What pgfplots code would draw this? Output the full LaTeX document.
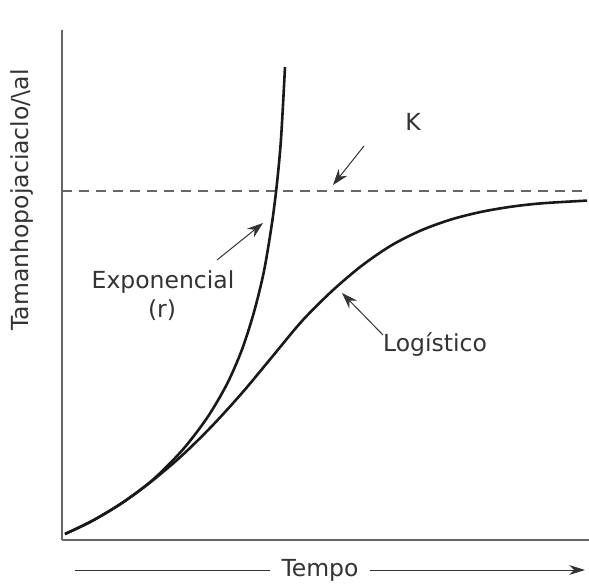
\documentclass[border=0pt]{standalone}
\usepackage{pgfplots}
\pgfplotsset{compat=1.18}
\usepackage{fontspec}
\setmainfont{DejaVu Sans}
\usetikzlibrary{arrows.meta}
\definecolor{txt}{HTML}{333333}
\definecolor{axc}{HTML}{666666}
\begin{document}
\begin{tikzpicture}[every node/.style={font=\fontsize{11.75pt}{14pt}\selectfont, text=txt}]
\useasboundingbox (0,0) rectangle (294.5pt,292pt);
\begin{axis}[
  at={(31pt,22pt)}, anchor=south west,
  scale only axis, width=263.5pt, height=255pt,
  xmin=0, xmax=527, ymin=0, ymax=510,
  axis x line=bottom, axis y line=left,
  axis line style={-, axc, line width=0.7pt},
  xtick=\empty, ytick=\empty,
  clip=false,
]
% K line
\addplot[axc, line width=0.7pt, dash pattern=on 5pt off 3.5pt] coordinates {(0,349) (523,349)};
% exponential
\addplot[black!90, line width=1.3pt, smooth] coordinates {
(3,6) (30,19) (60,37) (90,59.5) (120,89.5) (145,122) (165,156) (180,190.5) (192,228) (202,269) (210,317) (215,357) (219,401) (223,473)};
% logistic
\addplot[black!90, line width=1.3pt, smooth] coordinates {
(3,6) (30,19) (60,37) (90,59) (120,84.5) (150,114) (180,147) (210,183) (240,219) (270,249) (300,274.5) (330,295) (360,310) (390,320.8) (420,328.3) (450,333.4) (480,336.7) (525,339.4)};
% arrows
\draw[txt, line width=0.5pt, -{Stealth[length=8pt,width=5.5pt]}] (axis cs:302,394) -- (axis cs:271,355);
\draw[txt, line width=0.5pt, -{Stealth[length=8pt,width=5.5pt]}] (axis cs:155,280) -- (axis cs:201,317);
\draw[txt, line width=0.5pt, -{Stealth[length=8pt,width=5.5pt]}] (axis cs:321,205) -- (axis cs:280,247);
% labels
\node at (axis cs:351,418) {K};
\node at (axis cs:101,258) {Exponencial};
\node at (axis cs:100,230) {(r)};
\node at (axis cs:373,195) {Logístico};
\node[rotate=90] at (axis cs:-40,340) {Tamanhopojaciaclo/\textbackslash al};
% Tempo
\node (tempo) at (axis cs:258,-30) {Tempo};
\draw[txt, line width=0.5pt] (axis cs:13,-30) -- (axis cs:208,-30);
\draw[txt, line width=0.5pt, -{Stealth[length=8pt,width=5pt]}] (axis cs:308,-30) -- (axis cs:523,-30);
\end{axis}
\end{tikzpicture}
\end{document}
